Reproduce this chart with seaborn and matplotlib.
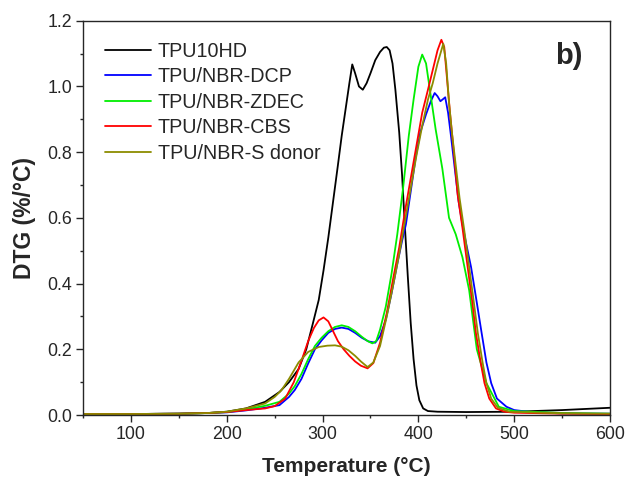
import matplotlib
matplotlib.use("Agg")
import matplotlib.pyplot as plt
import seaborn as sns
import pandas as pd
from matplotlib.ticker import MultipleLocator

sns.set_style("ticks")
plt.rcParams['font.family'] = ['Liberation Sans', 'DejaVu Sans']

series_names = ["TPU10HD", "TPU/NBR-DCP", "TPU/NBR-ZDEC", "TPU/NBR-CBS", "TPU/NBR-S donor"]
colors = ["#000000", "#0000ff", "#00ee00", "#ff0000", "#8c8c00"]

t_black = [50, 100, 150, 180, 200, 220, 240, 255, 265, 275, 283, 290, 296, 301, 306, 311, 316, 320, 324, 328,
           331, 334, 338, 342, 346, 350, 355, 360, 364, 367, 370, 373, 376, 380, 383, 386, 389, 392, 395, 398,
           401, 405, 410, 420, 450, 500, 550, 600]
v_black = [0.003, 0.003, 0.004, 0.006, 0.01, 0.02, 0.04, 0.07, 0.10, 0.14, 0.20, 0.28, 0.35, 0.44, 0.54, 0.65,
           0.76, 0.85, 0.93, 1.01, 1.067, 1.04, 1.00, 0.99, 1.01, 1.04, 1.08, 1.105, 1.118, 1.12, 1.11, 1.07,
           0.99, 0.86, 0.73, 0.57, 0.42, 0.28, 0.17, 0.09, 0.045, 0.02, 0.012, 0.01, 0.009, 0.01, 0.015, 0.022]

t_blue = [50, 100, 150, 180, 200, 220, 240, 255, 265, 271, 278, 285, 292, 299, 306, 313, 320, 327, 334, 341,
          348, 355, 360, 366, 372, 378, 383, 387, 392, 397, 402, 408, 413, 417, 420, 423, 426, 428, 431, 434,
          438, 442, 446, 450, 455, 460, 466, 471, 476, 482, 492, 500, 520, 550, 600]
v_blue = [0.003, 0.003, 0.004, 0.006, 0.008, 0.014, 0.022, 0.03, 0.055, 0.076, 0.11, 0.157, 0.20, 0.227, 0.25,
          0.262, 0.266, 0.262, 0.25, 0.235, 0.224, 0.22, 0.24, 0.29, 0.37, 0.46, 0.53, 0.58, 0.68, 0.78, 0.86,
          0.915, 0.955, 0.98, 0.97, 0.955, 0.962, 0.967, 0.92, 0.85, 0.75, 0.65, 0.58, 0.52, 0.45, 0.36, 0.25,
          0.16, 0.097, 0.05, 0.025, 0.015, 0.008, 0.005, 0.004]

t_green = [50, 100, 150, 180, 200, 220, 240, 255, 265, 271, 278, 285, 292, 299, 306, 313, 320, 327, 334, 341,
           347, 352, 356, 360, 366, 372, 378, 384, 390, 395, 400, 404, 408, 413, 418, 425, 432, 439, 446, 453,
           461, 471, 484, 500, 550, 600]
v_green = [0.003, 0.003, 0.004, 0.006, 0.009, 0.017, 0.028, 0.04, 0.065, 0.088, 0.125, 0.17, 0.21, 0.235, 0.255,
           0.268, 0.273, 0.268, 0.255, 0.238, 0.225, 0.218, 0.225, 0.26, 0.33, 0.43, 0.55, 0.69, 0.85, 0.96, 1.06,
           1.097, 1.07, 0.97, 0.87, 0.75, 0.60, 0.55, 0.48, 0.38, 0.20, 0.097, 0.025, 0.012, 0.006, 0.004]

t_red = [50, 100, 150, 180, 200, 220, 240, 250, 261, 270, 278, 285, 291, 296, 301, 306, 311, 316, 322, 328, 334,
         340, 347, 353, 360, 367, 374, 380, 386, 392, 398, 404, 410, 415, 420, 424, 427, 430, 433, 437, 441, 446,
         451, 456, 460, 465, 469, 474, 481, 490, 500, 550, 600]
v_red = [0.003, 0.003, 0.004, 0.006, 0.009, 0.015, 0.02, 0.027, 0.05, 0.10, 0.165, 0.225, 0.265, 0.288, 0.297,
         0.285, 0.255, 0.225, 0.20, 0.18, 0.163, 0.15, 0.142, 0.158, 0.22, 0.31, 0.42, 0.51, 0.62, 0.72, 0.82, 0.92,
         0.99, 1.05, 1.11, 1.142, 1.12, 1.02, 0.92, 0.80, 0.67, 0.57, 0.46, 0.35, 0.25, 0.16, 0.097, 0.05, 0.02,
         0.01, 0.007, 0.004, 0.003]

t_olive = [50, 100, 150, 180, 200, 220, 240, 250, 257, 265, 275, 285, 296, 305, 313, 320, 327, 334, 340, 347, 353,
           360, 367, 374, 380, 386, 392, 398, 404, 410, 415, 420, 426, 429, 432, 435, 439, 443, 448, 453, 458, 462,
           467, 471, 476, 483, 495, 550, 600]
v_olive = [0.003, 0.003, 0.004, 0.006, 0.01, 0.02, 0.035, 0.055, 0.075, 0.11, 0.16, 0.192, 0.207, 0.211, 0.212,
           0.208, 0.197, 0.18, 0.163, 0.146, 0.16, 0.21, 0.30, 0.40, 0.49, 0.59, 0.69, 0.79, 0.88, 0.96, 1.01, 1.07,
           1.13, 1.07, 0.95, 0.86, 0.76, 0.66, 0.56, 0.45, 0.34, 0.25, 0.16, 0.097, 0.05, 0.022, 0.01, 0.005, 0.004]

all_t = [t_black, t_blue, t_green, t_red, t_olive]
all_v = [v_black, v_blue, v_green, v_red, v_olive]

frames = []
for name, t, v in zip(series_names, all_t, all_v):
    frames.append(pd.DataFrame({"Temperature": t, "DTG": v, "Sample": name}))
df = pd.concat(frames, ignore_index=True)

fig = plt.figure(figsize=(6.27, 4.82), dpi=100)
ax = fig.add_axes([0.1324, 0.139, 0.8405, 0.818])

sns.lineplot(data=df, x="Temperature", y="DTG", hue="Sample", hue_order=series_names,
             palette=colors, linewidth=1.3, ax=ax, estimator=None)

ax.set_xlim(50, 600)
ax.set_ylim(0, 1.2)
ax.xaxis.set_major_locator(MultipleLocator(100))
ax.xaxis.set_minor_locator(MultipleLocator(50))
ax.yaxis.set_major_locator(MultipleLocator(0.2))
ax.yaxis.set_minor_locator(MultipleLocator(0.1))
ax.yaxis.set_major_formatter(matplotlib.ticker.FormatStrFormatter('%.1f'))
ax.tick_params(which='major', direction='out', length=5, width=1, labelsize=12.8, pad=3,
               top=False, right=False)
ax.tick_params(which='minor', direction='out', length=2.5, width=1, top=False, right=False)
for s in ax.spines.values():
    s.set_linewidth(1.0)
    s.set_visible(True)

ax.set_xlabel("Temperature (°C)", fontsize=15, fontweight='bold', labelpad=10)
ax.set_ylabel("DTG (%/°C)", fontsize=16.5, fontweight='bold', labelpad=8)

ax.text(0.895, 0.91, "b)", transform=ax.transAxes, fontsize=21, fontweight='bold', ha='left', va='center')

leg = ax.legend(loc='upper left', bbox_to_anchor=(0.035, 0.957), frameon=False, fontsize=14.2,
                handlelength=2.3, labelspacing=0.33, handletextpad=0.35, borderaxespad=0.0,
                borderpad=0.2)

fig.savefig("out.png", dpi=100)
